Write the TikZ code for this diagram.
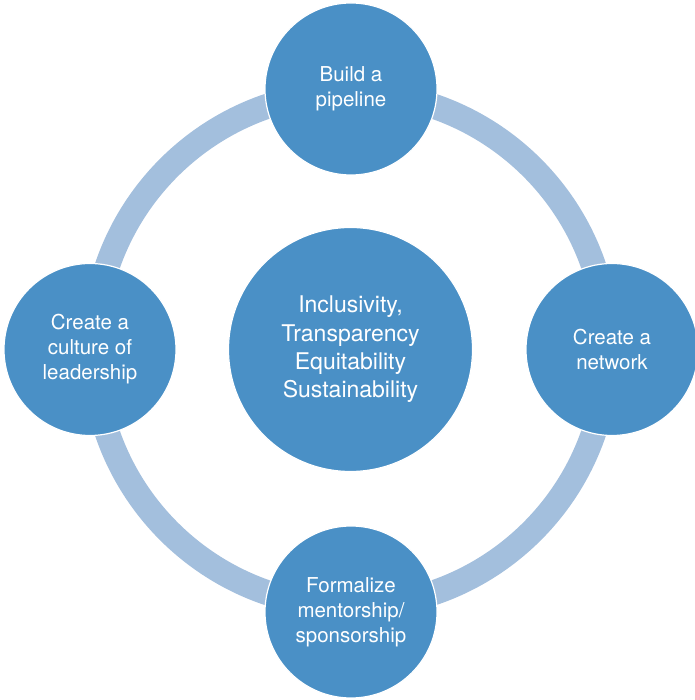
\documentclass[tikz,border=0pt]{standalone}
\usepackage{fontspec}
\setmainfont{TeX Gyre Heros}
\definecolor{discblue}{HTML}{4A90C6}
\definecolor{ringblue}{HTML}{A3BFDD}
\begin{document}
\begin{tikzpicture}[x=1pt,y=1pt,
  disc/.style={circle, fill=discblue, draw=white, line width=1.2pt,
    minimum size=172pt, inner sep=0pt, text=white, align=center,
    font=\fontsize{20.5}{25}\selectfont},
  hub/.style={disc, minimum size=244pt, font=\fontsize{23}{28.3}\selectfont},
  ring/.style={draw=ringblue, line width=25pt}]
\useasboundingbox (0,0) rectangle (694,700);
% connecting ring behind the discs
\coordinate (o) at (350.5,350.5);
\draw[ring] (o) circle[radius=257];
% central disc
\node[hub] (core) at (o) {Inclusivity,\\Transparency\\Equitability\\Sustainability};
% outer discs
\node[disc] (top) at (351,611) {Build a\\pipeline};
\node[disc] (right) at (612,350.5) {Create a\\network};
\node[disc] (bottom) at (351,88) {Formalize\\mentorship/\\sponsorship};
\node[disc] (left) at (90,350.5) {Create a\\culture of\\leadership};
\end{tikzpicture}
\end{document}
